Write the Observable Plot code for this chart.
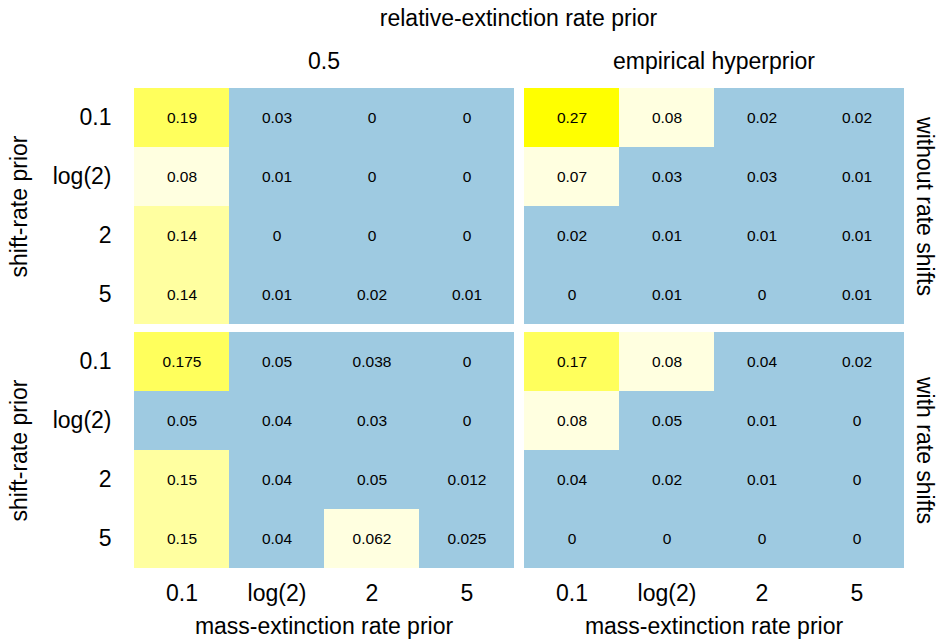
<!DOCTYPE html>
<html>
<head>
<meta charset="utf-8">
<script src="https://cdn.jsdelivr.net/npm/d3@7"></script>
<script src="https://cdn.jsdelivr.net/npm/@observablehq/plot@0.6"></script>
<style>
  body { margin: 0; background: #fff; font-family: "Liberation Sans", Arial, Helvetica, sans-serif; }
  #title { height: 36px; line-height: 36px; padding-left: 131px; padding-right: 34px; text-align: center; font-size: 23px; color: #000; }
</style>
</head>
<body>
<div id="title">relative-extinction rate prior</div>
<div id="chart"></div>
<script>
const relExtPriors = ["0.5", "empirical hyperprior"];
const shiftModels = ["without rate shifts", "with rate shifts"];
const massPriors = ["0.1", "log(2)", "2", "5"];
const shiftPriors = ["0.1", "log(2)", "2", "5"];

// rows = shift-rate prior, columns = mass-extinction rate prior
const half_without = [
  [0.19, 0.03, 0, 0],
  [0.08, 0.01, 0, 0],
  [0.14, 0, 0, 0],
  [0.14, 0.01, 0.02, 0.01]
];
const empirical_without = [
  [0.27, 0.08, 0.02, 0.02],
  [0.07, 0.03, 0.03, 0.01],
  [0.02, 0.01, 0.01, 0.01],
  [0, 0.01, 0, 0.01]
];
const half_with = [
  [0.175, 0.05, 0.038, 0],
  [0.05, 0.04, 0.03, 0],
  [0.15, 0.04, 0.05, 0.012],
  [0.15, 0.04, 0.062, 0.025]
];
const empirical_with = [
  [0.17, 0.08, 0.04, 0.02],
  [0.08, 0.05, 0.01, 0],
  [0.04, 0.02, 0.01, 0],
  [0, 0, 0, 0]
];

const colorBreaks = [0.06, 0.1, 0.16, 0.2];
const colorRange = ["#9ecae1", "#ffffe0", "#ffffa0", "#ffff5c", "#ffff00"];

const panels = [
  {rel: relExtPriors[0], model: shiftModels[0], values: half_without},
  {rel: relExtPriors[1], model: shiftModels[0], values: empirical_without},
  {rel: relExtPriors[0], model: shiftModels[1], values: half_with},
  {rel: relExtPriors[1], model: shiftModels[1], values: empirical_with}
];

const data = [];
for (const p of panels) {
  p.values.forEach((row, i) => row.forEach((v, j) => {
    data.push({rel: p.rel, model: p.model, shift: shiftPriors[i], mass: massPriors[j], value: v});
  }));
}

const rowLabels = shiftModels.map(m => ({rel: relExtPriors[1], model: m, text: m}));
const yTitles = shiftModels.map(m => ({rel: relExtPriors[0], model: m, text: "shift-rate prior"}));
const xTitles = relExtPriors.map(r => ({rel: r, model: shiftModels[1], text: "mass-extinction rate prior"}));

const chart = Plot.plot({
  width: 940,
  height: 605,
  marginLeft: 131,
  marginRight: 34,
  marginTop: 51,
  marginBottom: 72,
  style: {fontFamily: "'Liberation Sans', Arial, Helvetica, sans-serif", fontSize: "23px", color: "#000", background: "#fff"},
  fx: {domain: relExtPriors, padding: 0.0179, axis: "top", label: null, tickSize: 0, tickPadding: 19},
  fy: {domain: shiftModels, padding: 0.0246, axis: null},
  x: {domain: massPriors, padding: 0, axis: "bottom", tickSize: 0, tickPadding: 15, label: null},
  y: {domain: shiftPriors, padding: 0, axis: "left", tickSize: 0, tickPadding: 21, label: null},
  color: {type: "threshold", domain: colorBreaks, range: colorRange},
  marks: [
    Plot.cell(data, {x: "mass", y: "shift", fx: "rel", fy: "model", fill: "value"}),
    Plot.text(data, {x: "mass", y: "shift", fx: "rel", fy: "model", text: d => String(d.value), fontSize: 15.5, fill: "#000"}),
    Plot.text(rowLabels, {fx: "rel", fy: "model", text: "text", frameAnchor: "right", textAnchor: "middle", lineAnchor: "middle", rotate: 90, dx: 19, fontSize: 23, fill: "#000"}),
    Plot.text(yTitles, {fx: "rel", fy: "model", text: "text", frameAnchor: "left", textAnchor: "middle", lineAnchor: "middle", rotate: -90, dx: -113, fontSize: 23, fill: "#000"}),
    Plot.text(xTitles, {fx: "rel", fy: "model", text: "text", frameAnchor: "bottom", textAnchor: "middle", lineAnchor: "middle", dy: 57, fontSize: 23, fill: "#000"})
  ]
});
document.getElementById("chart").appendChild(chart);
</script>
</body>
</html>
